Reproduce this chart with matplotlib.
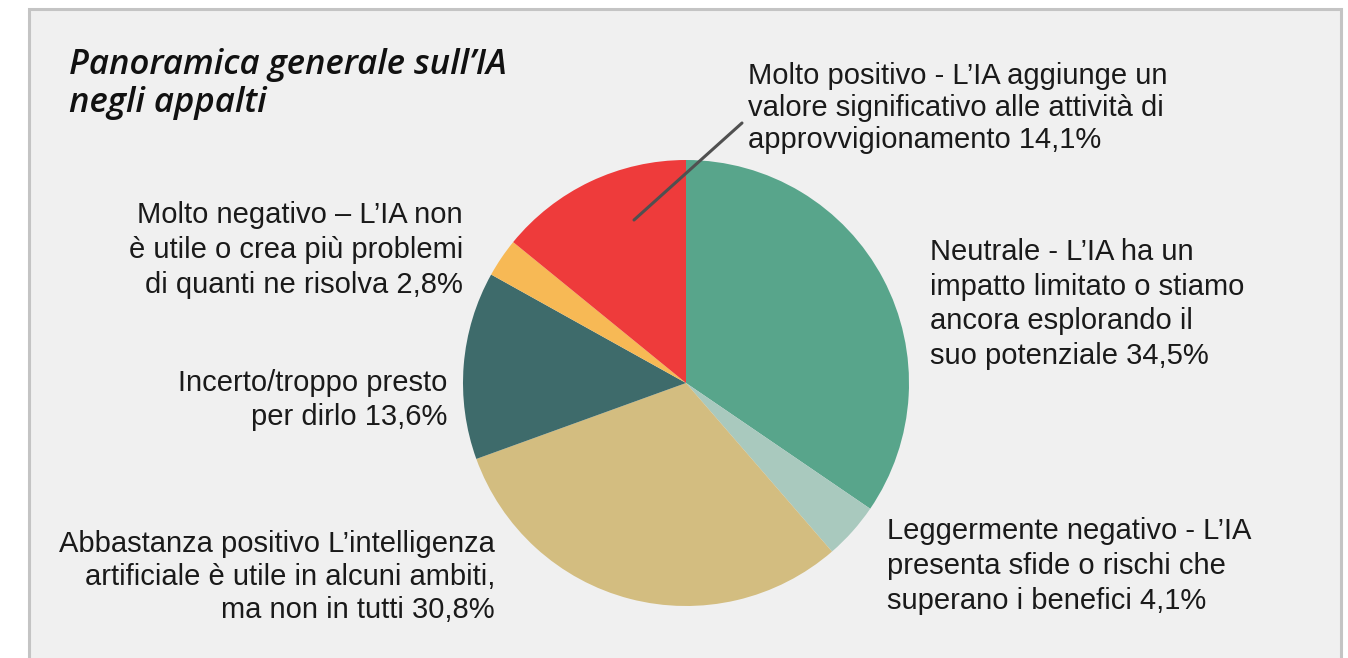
import matplotlib
matplotlib.use("Agg")
import matplotlib.pyplot as plt
from matplotlib.patches import Rectangle

labels = [
    "Neutrale - L\u2019IA ha un\nimpatto limitato o stiamo\nancora esplorando il\nsuo potenziale 34,5%",
    "Leggermente negativo - L\u2019IA\npresenta sfide o rischi che\nsuperano i benefici 4,1%",
    "Abbastanza positivo L\u2019intelligenza\nartificiale \u00e8 utile in alcuni ambiti,\nma non in tutti 30,8%",
    "Incerto/troppo presto\nper dirlo 13,6%",
    "Molto negativo \u2013 L\u2019IA non\n\u00e8 utile o crea pi\u00f9 problemi\ndi quanti ne risolva 2,8%",
    "Molto positivo - L\u2019IA aggiunge un\nvalore significativo alle attivit\u00e0 di\napprovvigionamento 14,1%",
]
values = [34.5, 4.1, 30.8, 13.6, 2.8, 14.1]
colors = ["#58a58b", "#a9c9be", "#d3bd80", "#3e6b6b", "#f7b955", "#ee3b3b"]
title = "Panoramica generale sull\u2019IA\nnegli appalti"

W, H = 1348, 658
fig = plt.figure(figsize=(W / 100, H / 100), dpi=100)
fig.patch.set_facecolor("white")

# background panel with border (no bottom border visible)
fig.patches.append(Rectangle((29 / W, -0.05), (1341 - 29) / W, 1.05 - 9 / H,
                             transform=fig.transFigure, facecolor="#f0f0f0",
                             edgecolor="#c4c4c4", linewidth=2.2, zorder=-5))

cx, cy, r = 686, 383, 223
ax = fig.add_axes([(cx - r) / W, (H - cy - r) / H, 2 * r / W, 2 * r / H])
ax.set_facecolor("none")
ax.set_zorder(2)
ax.pie(values, colors=colors, startangle=90, counterclock=False,
       radius=1.0, wedgeprops=dict(linewidth=0))
ax.set_xlim(-1, 1)
ax.set_ylim(-1, 1)
ax.set_aspect("equal")
ax.axis("off")

font = "Liberation Sans"
fs = 21

def ftext(x, y, s, ha, ls):
    fig.text(x / W, 1 - y / H, s, ha=ha, va="center", fontsize=fs,
             family=font, color="#1a1a1a", linespacing=ls, multialignment=ha,
             zorder=5)

ftext(930, 304, labels[0], "left", 1.31)
ftext(887, 566, labels[1], "left", 1.31)
ftext(495, 577, labels[2], "right", 1.24)
ftext(447, 400, labels[3], "right", 1.26)
ftext(463, 250, labels[4], "right", 1.31)
ftext(748, 108, labels[5], "left", 1.2)

# leader line for "Molto positivo"
ax.annotate("", xy=((634 - cx) / r, (cy - 220) / r),
            xytext=((742 - cx) / r, (cy - 123) / r),
            arrowprops=dict(arrowstyle="-", color="#505050", lw=2.2,
                            shrinkA=0, shrinkB=0), annotation_clip=False)

fig.text(69 / W, 1 - 84 / H, title, ha="left", va="center", fontsize=25,
         family="Open Sans", style="italic", weight="semibold", color="#111111",
         linespacing=1.17)

fig.savefig("out.png", dpi=100, facecolor=fig.get_facecolor())
